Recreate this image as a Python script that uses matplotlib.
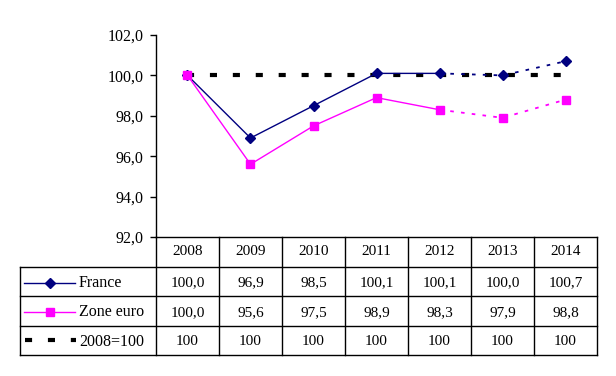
import matplotlib.pyplot as plt
from matplotlib.lines import Line2D

years = ["2008", "2009", "2010", "2011", "2012", "2013", "2014"]
france = [100.0, 96.9, 98.5, 100.1, 100.1, 100.0, 100.7]
zone_euro = [100.0, 95.6, 97.5, 98.9, 98.3, 97.9, 98.8]
base = [100, 100, 100, 100, 100, 100, 100]
yticks = [92, 94, 96, 98, 100, 102]
n_solid = 5  # 2008-2012 plein, puis pointillé

plt.rcParams["font.family"] = ["Liberation Serif", "DejaVu Serif"]
FS = 11
NAVY = "#000080"
MAG = "#FF00FF"

fig = plt.figure(figsize=(6.16, 3.76), dpi=100)
W, H = 616, 376

# --- graphique
ax = fig.add_axes([156 / W, 1 - 237 / H, (597 - 156) / W, (237 - 35) / H])
x = list(range(len(years)))

ax.plot(x, base, color="black", lw=3, linestyle=(0, (1.7, 3.8)), zorder=1)
ax.plot(x[:n_solid], france[:n_solid], color=NAVY, lw=1, zorder=3)
ax.plot(x[n_solid - 1:], france[n_solid - 1:], color=NAVY, lw=1.3,
        linestyle=(0, (2, 4)), zorder=3)
ax.plot(x[:n_solid], zone_euro[:n_solid], color=MAG, lw=1, zorder=3)
ax.plot(x[n_solid - 1:], zone_euro[n_solid - 1:], color=MAG, lw=1.3,
        linestyle=(0, (2, 4)), zorder=3)
ax.plot(x, france, linestyle="none", marker="D", ms=5, color=NAVY, zorder=4)
ax.plot(x, zone_euro, linestyle="none", marker="s", ms=6, color=MAG, zorder=4)

ax.set_xlim(-0.5, len(years) - 0.5)
ax.set_ylim(92, 102)
ax.set_yticks(yticks)
ax.set_yticklabels([f"{v:.1f}".replace(".", ",") for v in yticks], fontsize=FS + 0.5)
ax.set_xticks([])
for s in ["top", "right"]:
    ax.spines[s].set_visible(False)
ax.spines["left"].set_linewidth(1)
ax.spines["bottom"].set_linewidth(1)
ax.tick_params(axis="y", direction="out", length=4, width=1, pad=5)

# --- tableau de données
leg_w = 136 / 63
tab = fig.add_axes([20 / W, 1 - 355 / H, (597 - 20) / W, (355 - 237) / H])
x0 = -0.5 - leg_w
tab.set_xlim(x0, len(years) - 0.5)
tab.set_ylim(4, 0)
tab.axis("off")

lk = dict(color="black", lw=1, clip_on=False)
for r in [1, 2, 3, 4]:
    tab.add_line(Line2D([x0, len(years) - 0.5], [r, r], **lk))
for k in range(len(years) + 1):
    tab.add_line(Line2D([k - 0.5, k - 0.5], [0, 4], **lk))
tab.add_line(Line2D([x0, x0], [1, 4], **lk))

rows = [
    ("France", [f"{v:.1f}".replace(".", ",") for v in france]),
    ("Zone euro", [f"{v:.1f}".replace(".", ",") for v in zone_euro]),
    ("2008=100", [str(v) for v in base]),
]
for i, yr in enumerate(years):
    tab.text(i, 0.5, yr, ha="center", va="center", fontsize=FS)
for r, (name, vals) in enumerate(rows, start=1):
    for i, v in enumerate(vals):
        tab.text(i, r + 0.55, v, ha="center", va="center", fontsize=FS)
    tab.text(x0 + 59 / 63, r + 0.55, name, ha="left", va="center", fontsize=FS + 0.5)

# échantillons de légende
tab.add_line(Line2D([x0 + 4 / 63, x0 + 55 / 63], [1.55, 1.55], color=NAVY, lw=1))
tab.add_line(Line2D([x0 + 30 / 63], [1.55], color=NAVY, marker="D", ms=5))
tab.add_line(Line2D([x0 + 4 / 63, x0 + 55 / 63], [2.55, 2.55], color=MAG, lw=1))
tab.add_line(Line2D([x0 + 30 / 63], [2.55], color=MAG, marker="s", ms=6))
tab.add_line(Line2D([x0 + 5 / 63, x0 + 56 / 63], [3.5, 3.5], color="black", lw=3,
                    linestyle=(0, (1.7, 3.8))))

fig.savefig("out.png", dpi=100)
